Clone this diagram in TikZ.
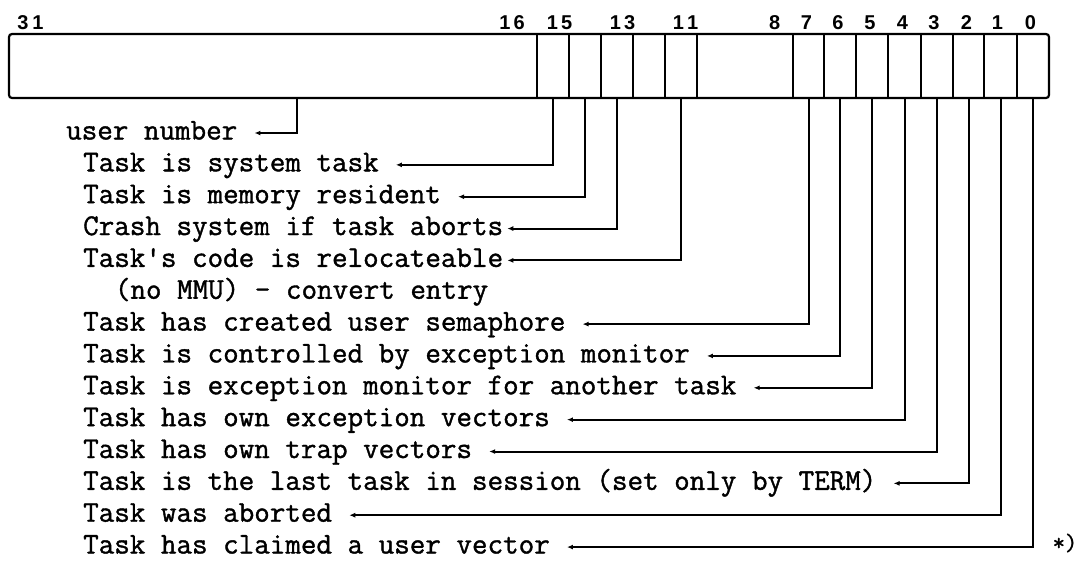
\documentclass[tikz,border=0pt]{standalone}
\usepackage{fontspec}
\usetikzlibrary{arrows.meta}
\newfontfamily\bitfamily{Liberation Sans}
\newfontfamily\rowfamily[FakeBold=1.2]{lmmono12-regular.otf}
\newcommand\rowfont{\rowfamily\fontsize{30.2}{32}\selectfont}
\newcommand\bitfont{\bitfamily\bfseries\fontsize{20}{20}\selectfont}
\newcommand\notefont{\rowfamily\fontsize{24}{24}\selectfont}
\tikzset{
  regline/.style={line width=2.2pt},
  conn/.style={line width=2pt, -{Latex[length=6pt,width=5pt]}},
  rowtxt/.style={anchor=base west, inner sep=0pt, font=\rowfont},
  bitlbl/.style={inner sep=0pt, font=\bitfont},
}
\begin{document}
\begin{tikzpicture}[x=1pt,y=-1pt]
\useasboundingbox (0,0) rectangle (1085,566);

% status register outline and field dividers
\draw[regline, rounded corners=3pt] (9,34) rectangle (1049,98);
\foreach \x in {537,569,601,633,665,697,793,824,856,888,921,953,984,1017}
  \draw[regline] (\x,34) -- (\x,98);

% bit numbers
\node[bitlbl] (b31) at (30.5,22.5) {3\kern4pt 1};
\node[bitlbl] (b16) at (512,22.5) {1\kern3pt 6};
\node[bitlbl] (b15) at (559.5,22.5) {1\kern3pt 5};
\node[bitlbl] (b13) at (622.5,22.5) {1\kern3pt 3};
\node[bitlbl] (b11) at (685.5,22.5) {1\kern3pt 1};
\node[bitlbl] (b8) at (774.7,22.5) {8};
\node[bitlbl] (b7) at (806.5,22.5) {7};
\node[bitlbl] (b6) at (838,22.5) {6};
\node[bitlbl] (b5) at (870,22.5) {5};
\node[bitlbl] (b4) at (902.5,22.5) {4};
\node[bitlbl] (b3) at (934,22.5) {3};
\node[bitlbl] (b2) at (966.5,22.5) {2};
\node[bitlbl] (b1) at (997.5,22.5) {1};
\node[bitlbl] (b0) at (1030.5,22.5) {0};

% connector start points below the fields
\coordinate (fU) at (297,98);
\coordinate (f15) at (553,98);
\coordinate (f14) at (585,98);
\coordinate (f13) at (617,98);
\coordinate (f11) at (681,98);
\coordinate (f7) at (808.5,98);
\coordinate (f6) at (840,98);
\coordinate (f5) at (872,98);
\coordinate (f4) at (904.5,98);
\coordinate (f3) at (937,98);
\coordinate (f2) at (968.5,98);
\coordinate (f1) at (1000.5,98);
\coordinate (f0) at (1033,98);

% descriptions (baseline = connector level + 6.5)
\node[rowtxt] (t0) at (66,139.5) {user number};
\node[rowtxt] (t1) at (83,171.35) {Task is system task};
\node[rowtxt] (t2) at (83,203.2) {Task is memory resident};
\node[rowtxt] (t3) at (83,235.05) {Crash system if task aborts};
\node[rowtxt] (t4) at (83,266.9) {Task\textquotesingle s code is relocateable};
\node[rowtxt] (t5) at (114.7,298.75) {(no MMU) - convert entry};
\node[rowtxt] (t6) at (83,330.6) {Task has created user semaphore};
\node[rowtxt] (t7) at (83,362.45) {Task is controlled by exception monitor};
\node[rowtxt] (t8) at (83,394.3) {Task is exception monitor for another task};
\node[rowtxt] (t9) at (83,426.15) {Task has own exception vectors};
\node[rowtxt] (t10) at (83,458) {Task has own trap vectors};
\node[rowtxt] (t11) at (83,489.85) {Task is the last task in session (set only by TERM)};
\node[rowtxt] (t12) at (83,521.7) {Task was aborted};
\node[rowtxt] (t13) at (83,553.55) {Task has claimed a user vector};
\node[inner sep=0pt, font=\notefont] (note) at (1065,543) {*)};

% connectors from the fields to their descriptions
\draw[conn] (fU)  |- ([xshift=17pt,yshift=6.5pt]t0.base east);
\draw[conn] (f15) |- ([xshift=17pt,yshift=6.5pt]t1.base east);
\draw[conn] (f14) |- ([xshift=17pt,yshift=6.5pt]t2.base east);
\draw[conn] (f13) |- ([xshift=4pt,yshift=6.5pt]t3.base east);
\draw[conn] (f11) |- ([xshift=4pt,yshift=6.5pt]t4.base east);
\draw[conn] (f7)  |- ([xshift=17pt,yshift=6.5pt]t6.base east);
\draw[conn] (f6)  |- ([xshift=17pt,yshift=6.5pt]t7.base east);
\draw[conn] (f5)  |- ([xshift=17pt,yshift=6.5pt]t8.base east);
\draw[conn] (f4)  |- ([xshift=17pt,yshift=6.5pt]t9.base east);
\draw[conn] (f3)  |- ([xshift=17pt,yshift=6.5pt]t10.base east);
\draw[conn] (f2)  |- ([xshift=17pt,yshift=6.5pt]t11.base east);
\draw[conn] (f1)  |- ([xshift=17pt,yshift=6.5pt]t12.base east);
\draw[conn] (f0)  |- ([xshift=17pt,yshift=6.5pt]t13.base east);
\end{tikzpicture}
\end{document}
